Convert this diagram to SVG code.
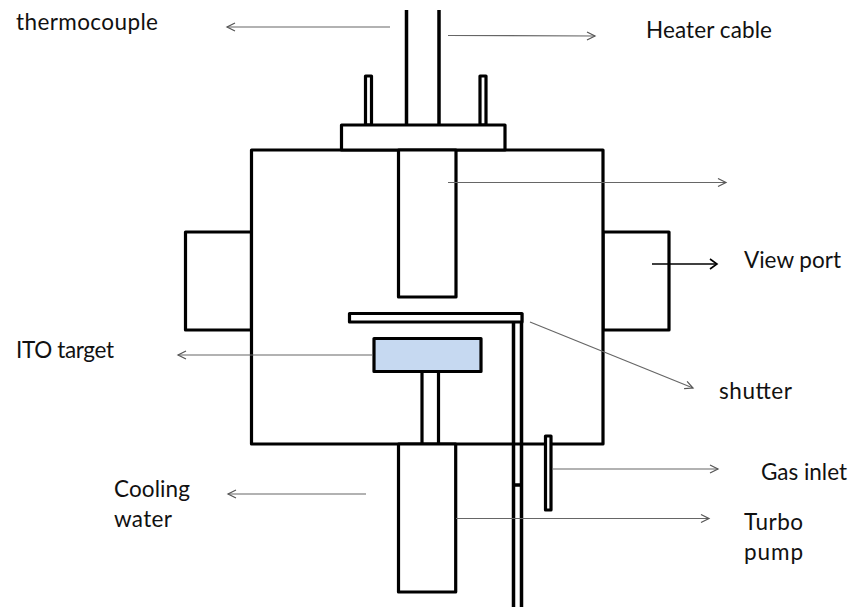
<svg xmlns="http://www.w3.org/2000/svg" width="849" height="607" viewBox="0 0 849 607">
<style>
.s{fill:#fff;stroke:#000;stroke-width:3.2;stroke-linejoin:round}
.t{fill:none;stroke:#000;stroke-width:3.5}
.c{fill:none;stroke:#666;stroke-width:1.2;marker-end:url(#a)}
.d{fill:none;stroke:#000;stroke-width:1.6;marker-end:url(#b)}
text{font-family:"Lato","Open Sans","Liberation Sans",sans-serif;font-size:22.5px;fill:#111}
</style>
<defs>
<marker id="a" markerUnits="userSpaceOnUse" markerWidth="12" markerHeight="12" refX="10" refY="6" orient="auto"><path d="M2 2L10 6L2 10" fill="none" stroke="#555" stroke-width="1.2"/></marker>
<marker id="b" markerUnits="userSpaceOnUse" markerWidth="12" markerHeight="14" refX="10" refY="7" orient="auto"><path d="M3 2L10 7L3 12" fill="none" stroke="#000" stroke-width="1.6"/></marker>
</defs>
<rect width="849" height="607" fill="#fff"/>
<g id="left-port"><rect class="s" x="185.500" y="232" width="66" height="98"/></g>
<g id="right-port"><rect class="s" x="603" y="232" width="66" height="98"/></g>
<g id="chamber"><rect class="s" x="251.500" y="150" width="351.500" height="294"/></g>
<g id="heater-cable"><path class="t" d="M406.500 10V125M439 10V125"/></g>
<g id="tube-left"><rect class="s" x="365.500" y="76" width="6" height="49"/></g>
<g id="tube-right"><rect class="s" x="480" y="76" width="6" height="49"/></g>
<g id="flange"><rect class="s" x="341.500" y="125" width="163.500" height="25"/></g>
<g id="heater"><rect class="s" x="398.500" y="150" width="57.500" height="147"/></g>
<g id="shutter-rod"><path class="t" d="M513.500 322V607M521.500 313V607M513.500 485H521.500"/></g>
<g id="shutter"><rect class="s" x="349.500" y="313.500" width="172.500" height="8.500"/></g>
<g id="stem"><rect class="s" x="422" y="371" width="16.500" height="73"/></g>
<g id="target"><rect x="374" y="338.500" width="107" height="33" fill="#c6d9f1" stroke="#000" stroke-width="3.200" stroke-linejoin="round"/></g>
<g id="pump"><rect class="s" x="398.500" y="444" width="57.200" height="148"/></g>
<g id="gas-inlet"><rect class="s" x="545.500" y="436" width="5.500" height="74"/></g>
<g id="connectors">
<path class="c" d="M390 27H227"/>
<path class="c" d="M448 35.500L595 36"/>
<path class="c" d="M448 182.500H726"/>
<path class="d" d="M652 264H717"/>
<path class="c" d="M530 322L693 388"/>
<path class="c" d="M373 355H178"/>
<path class="c" d="M552 469H718"/>
<path class="c" d="M456 518.500H709"/>
<path class="c" d="M366 494H228"/>
</g>
<g id="labels">
<text x="16" y="30" textLength="142">thermocouple</text>
<text x="646" y="38" textLength="126">Heater cable</text>
<text x="744" y="268" textLength="97">View port</text>
<text x="16" y="358" textLength="98">ITO target</text>
<text x="719" y="399" textLength="73">shutter</text>
<text x="761" y="480" textLength="86">Gas inlet</text>
<text x="114" y="497" textLength="76">Cooling</text>
<text x="114" y="527" textLength="58">water</text>
<text x="744" y="530" textLength="59">Turbo</text>
<text x="744" y="560" textLength="59">pump</text>
</g>
</svg>
